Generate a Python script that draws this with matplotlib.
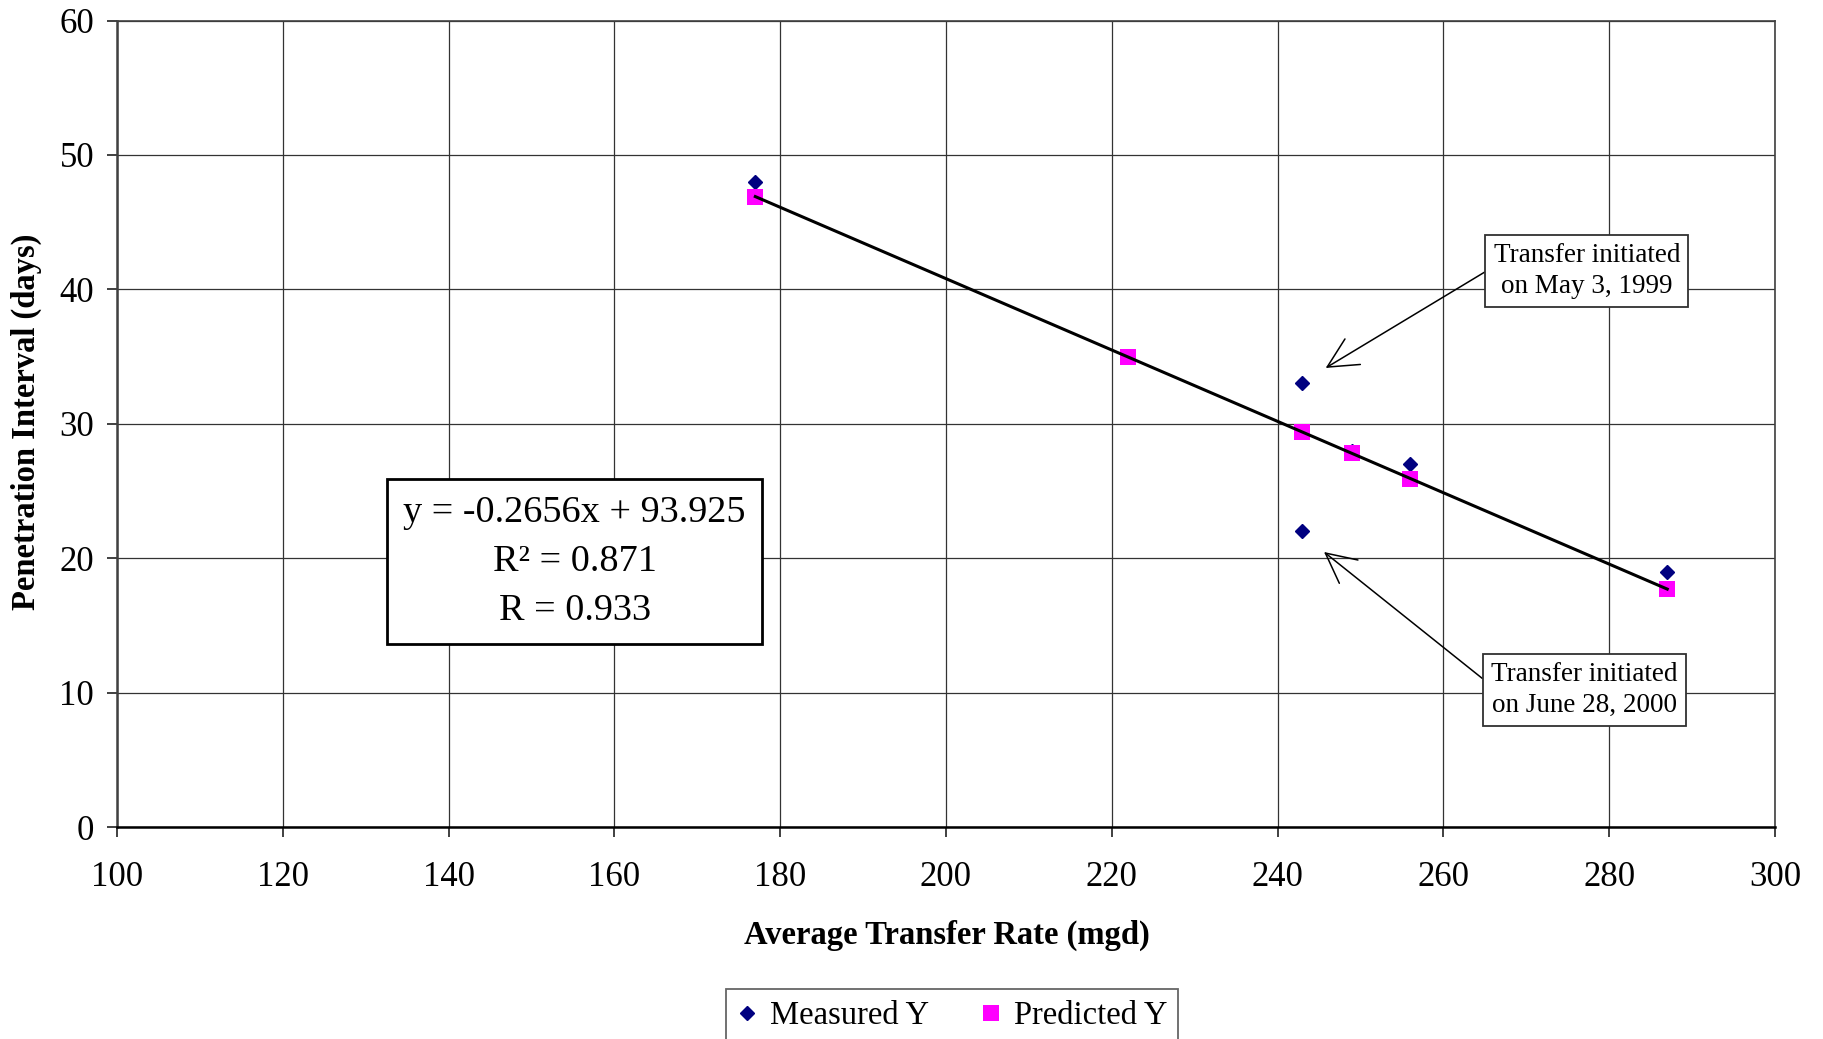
import matplotlib
matplotlib.use("Agg")
import matplotlib.pyplot as plt

plt.rcParams['font.family'] = ['Liberation Serif', 'DejaVu Serif']

# Data
transfer_rate = [177, 222, 243, 243, 249, 256, 287]
measured_y = [48, 35, 33, 22, 28, 27, 19]
pred_rate = [177, 222, 243, 249, 256, 287]
predicted_y = [46.9, 35.0, 29.4, 27.8, 25.9, 17.7]
x_ticks = [100, 120, 140, 160, 180, 200, 220, 240, 260, 280, 300]
y_ticks = [0, 10, 20, 30, 40, 50, 60]
equation_text = "y = -0.2656x + 93.925\nR\u00b2 = 0.871\nR = 0.933"

fig = plt.figure(figsize=(18.24, 10.39), dpi=100)
ax = fig.add_axes([117/1824, 1-827/1039, (1775-117)/1824, (827-20.5)/1039])

ax.set_xlim(100, 300)
ax.set_ylim(0, 60)
ax.set_xticks(x_ticks)
ax.set_yticks(y_ticks)
ax.grid(True, color='#333333', linewidth=0.9)
ax.set_axisbelow(True)
for s in ax.spines.values():
    s.set_color('#404040')
    s.set_linewidth(1.2)
ax.spines['bottom'].set_color('black')
ax.spines['bottom'].set_linewidth(1.8)
ax.spines['left'].set_linewidth(1.8)
ax.tick_params(axis='both', direction='out', length=7.5, width=1.2, color='#202020',
               labelsize=25)
ax.tick_params(axis='x', pad=17)
ax.tick_params(axis='y', pad=9)

ax.plot(transfer_rate, measured_y, linestyle='none', marker='D', markersize=7.6,
        color='#000080', label='Measured Y', zorder=3)
ax.plot(pred_rate, predicted_y, linestyle='none', marker='s', markersize=11.5,
        color='#ff00ff', markeredgewidth=0, label='Predicted Y', zorder=4)
ax.plot([pred_rate[0], pred_rate[-1]], [predicted_y[0], predicted_y[-1]],
        color='black', linewidth=2.2, zorder=5)

# Equation box
ax.text(155.2, 19.75, equation_text, fontsize=27.5, ha='center', va='center',
        multialignment='center', linespacing=1.55,
        bbox=dict(boxstyle='square,pad=0.42', facecolor='white', edgecolor='black',
                  linewidth=2.0), zorder=6)

arrow_kw = dict(arrowstyle='->,head_length=1.1,head_width=0.55', color='black',
                linewidth=1.1, shrinkA=0, shrinkB=0)
ax.annotate("Transfer initiated\non May 3, 1999", xy=(245.8, 34.15),
            xytext=(277.3, 41.35), fontsize=19.5, ha='center', va='center',
            linespacing=1.3,
            bbox=dict(boxstyle='square,pad=0.3', facecolor='white', edgecolor='#303030',
                      linewidth=1.3),
            arrowprops=dict(relpos=(0, 0.58), **arrow_kw), zorder=6)
ax.annotate("Transfer initiated\non June 28, 2000", xy=(245.6, 20.46),
            xytext=(277.0, 10.2), fontsize=19.5, ha='center', va='center',
            linespacing=1.3,
            bbox=dict(boxstyle='square,pad=0.3', facecolor='white', edgecolor='#303030',
                      linewidth=1.3),
            arrowprops=dict(relpos=(0, 0.58), **arrow_kw), zorder=6)

fig.text(946.7/1824, 1-935/1039, "Average Transfer Rate (mgd)", fontsize=23.5,
         fontweight='bold', ha='center', va='center')
fig.text(26/1824, 1-422/1039, "Penetration Interval (days)", fontsize=23.5,
         fontweight='bold', ha='center', va='center', rotation=90)

leg = fig.legend(loc='upper center', bbox_to_anchor=(952/1824, 1-989/1039), ncol=2,
                 fontsize=23.5, frameon=True, fancybox=False, handlelength=0.6,
                 handletextpad=0.4, columnspacing=1.6, borderpad=0.35,
                 borderaxespad=0)
leg.get_frame().set_edgecolor('#404040')
leg.get_frame().set_linewidth(1.3)

fig.savefig("out.png", dpi=100)
